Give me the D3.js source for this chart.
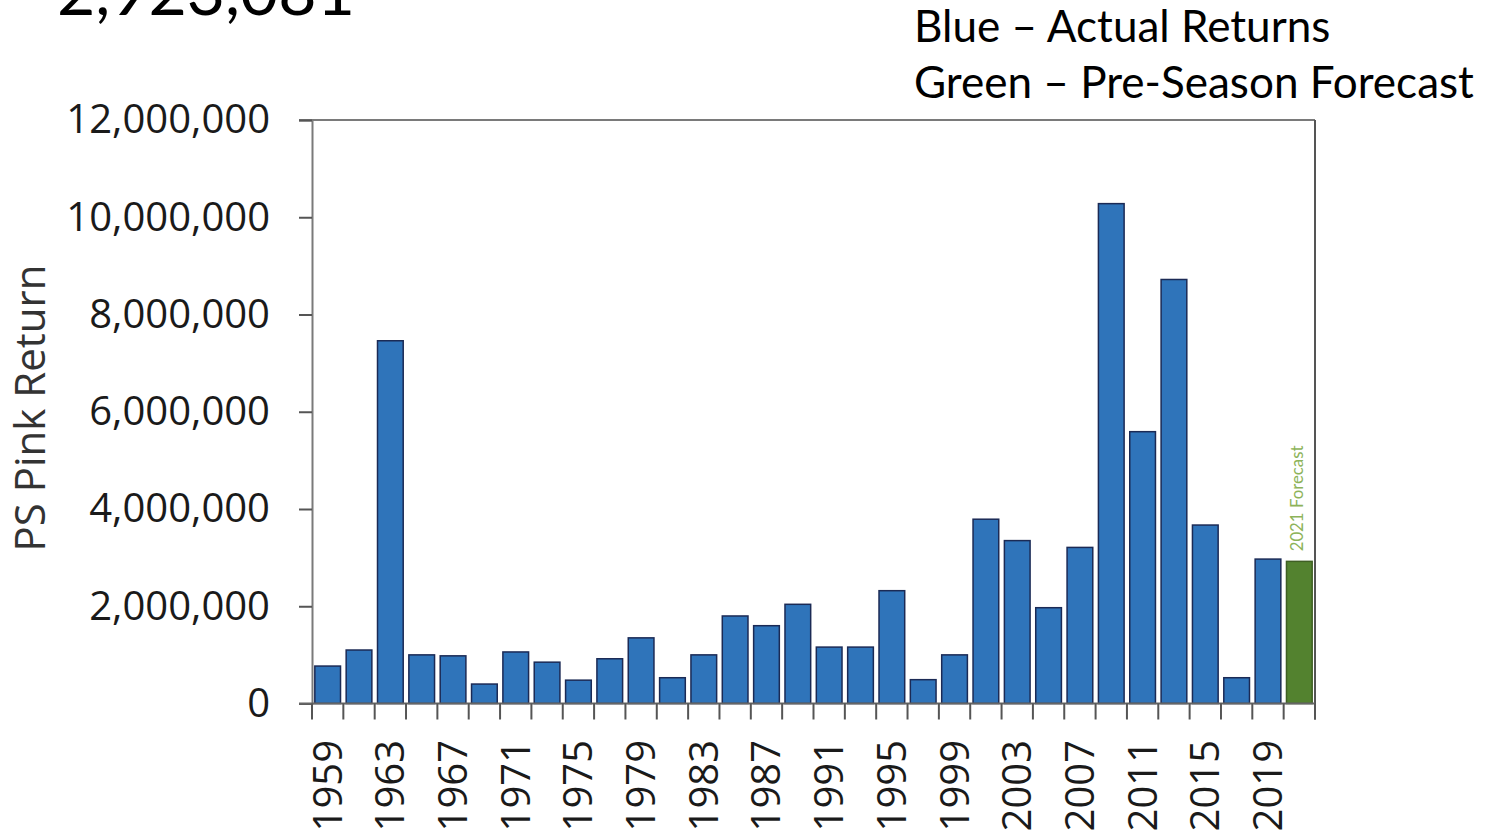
<!DOCTYPE html>
<html>
<head>
<meta charset="utf-8">
<script src="https://cdn.jsdelivr.net/npm/d3@7"></script>
<style>
  body { margin: 0; background: #fff; }
  svg { display: block; }
</style>
</head>
<body>
<svg id="chart" width="1488" height="838"></svg>
<script>
// odd years, actual returns (blue) and the 2021 pre-season forecast (green)
const years = [1959, 1961, 1963, 1965, 1967, 1969, 1971, 1973, 1975, 1977, 1979, 1981,
  1983, 1985, 1987, 1989, 1991, 1993, 1995, 1997, 1999, 2001, 2003, 2005, 2007, 2009,
  2011, 2013, 2015, 2017, 2019, 2021];
const actualReturns = [770000, 1100000, 7460000, 1000000, 980000, 400000, 1060000, 850000,
  480000, 920000, 1350000, 530000, 1000000, 1800000, 1600000, 2040000, 1160000, 1160000,
  2320000, 490000, 1000000, 3790000, 3350000, 1970000, 3210000, 10280000, 5590000,
  8720000, 3670000, 530000, 2970000];
const forecastYear = 2021;
const forecastValue = 2923081;
const labelYears = [1959, 1963, 1967, 1971, 1975, 1979, 1983, 1987, 1991, 1995, 1999,
  2003, 2007, 2011, 2015, 2019];
const yTicks = [0, 2000000, 4000000, 6000000, 8000000, 10000000, 12000000];

const bars = years.map((year, i) => ({
  year: year,
  value: year === forecastYear ? forecastValue : actualReturns[i],
  forecast: year === forecastYear
}));

const svg = d3.select('#chart');
const plotLeft = 312, plotRight = 1315, plotTop = 120, plotBottom = 703.5;

const x = d3.scaleBand().domain(years).range([plotLeft, plotRight]).paddingInner(0.18).paddingOuter(0.09);
const y = d3.scaleLinear().domain([0, 12000000]).range([plotBottom, plotTop]);

// scale a text's font size so it spans the wanted width
function fitWidth(sel, target) {
  const w = sel.node().getComputedTextLength();
  const fs = parseFloat(sel.attr('font-size'));
  sel.attr('font-size', fs * target / w);
}

// big number at top, cut off by the page edge
const title = svg.append('text')
  .attr('x', 57).attr('y', 15)
  .attr('font-family', 'Lato, sans-serif')
  .attr('font-size', 70)
  .attr('fill', '#000')
  .text(d3.format(',')(forecastValue));
fitWidth(title, 298);

const legendLines = ['Blue – Actual Returns', 'Green – Pre-Season Forecast'];
const legend = svg.append('g').selectAll('text')
  .data(legendLines)
  .join('text')
  .attr('x', 914)
  .attr('y', (d, i) => 42 + i * 56)
  .attr('font-family', 'Lato, sans-serif')
  .attr('font-size', 38)
  .attr('fill', '#000')
  .text(d => d);
const legendWide = legend.filter((d, i) => i === 1);
fitWidth(legendWide, 560);
legend.attr('font-size', legendWide.attr('font-size'));

// frame: top and right lines
svg.append('line')
  .attr('x1', plotLeft - 13).attr('x2', plotRight)
  .attr('y1', plotTop).attr('y2', plotTop)
  .attr('stroke', '#7a7a7a').attr('stroke-width', 2);
svg.append('line')
  .attr('x1', plotRight).attr('x2', plotRight)
  .attr('y1', plotTop).attr('y2', plotBottom + 16)
  .attr('stroke', '#555').attr('stroke-width', 2);

// bars
svg.append('g').selectAll('rect')
  .data(bars)
  .join('rect')
  .attr('x', d => x(d.year))
  .attr('y', d => y(d.value))
  .attr('width', x.bandwidth())
  .attr('height', d => y(0) - y(d.value))
  .attr('fill', d => d.forecast ? '#53822f' : '#2f74ba')
  .attr('stroke', d => d.forecast ? '#3f5f24' : '#1b2a55')
  .attr('stroke-width', 1.5);

// forecast note on the green bar
const fc = bars.find(d => d.forecast);
const note = svg.append('text')
  .attr('transform', `translate(${x(fc.year) + x.bandwidth() / 2 + 4},${y(fc.value) - 10}) rotate(-90)`)
  .attr('font-family', 'Lato, sans-serif')
  .attr('font-size', 13)
  .attr('fill', '#8db359')
  .text('2021 Forecast');
fitWidth(note, 106);

// y axis
const yAxis = svg.append('g')
  .attr('transform', `translate(${plotLeft},0)`)
  .call(d3.axisLeft(y).tickValues(yTicks).tickSize(13).tickPadding(29).tickFormat(d3.format(',')));
yAxis.select('.domain').attr('stroke', '#7a7a7a').attr('stroke-width', 2);
yAxis.selectAll('.tick line').attr('stroke', '#555').attr('stroke-width', 2);
yAxis.selectAll('.tick text')
  .attr('font-family', '"Open Sans", sans-serif')
  .attr('font-size', 40)
  .attr('fill', '#1a1a1a');

// x axis: baseline, ticks between bars, every other year labelled
const step = x.step();
const xg = svg.append('g');
xg.append('line')
  .attr('x1', plotLeft - 13).attr('x2', plotRight)
  .attr('y1', plotBottom).attr('y2', plotBottom)
  .attr('stroke', '#666').attr('stroke-width', 2);
xg.selectAll('line.tick')
  .data(years.concat([null]))
  .join('line')
  .attr('class', 'tick')
  .attr('x1', (d, i) => plotLeft + i * step)
  .attr('x2', (d, i) => plotLeft + i * step)
  .attr('y1', plotBottom).attr('y2', plotBottom + 16)
  .attr('stroke', '#555').attr('stroke-width', 2);
xg.selectAll('text')
  .data(labelYears)
  .join('text')
  .attr('transform', d => `translate(${x(d) + x.bandwidth() / 2},740) rotate(-90)`)
  .attr('dy', '0.35em')
  .attr('text-anchor', 'end')
  .attr('font-family', '"Open Sans", sans-serif')
  .attr('font-size', 40)
  .attr('fill', '#1a1a1a')
  .text(d => d);

// y axis title
const yTitle = svg.append('text')
  .attr('transform', 'translate(30,408) rotate(-90)')
  .attr('dy', '0.35em')
  .attr('text-anchor', 'middle')
  .attr('font-family', '"Open Sans", sans-serif')
  .attr('font-size', 38)
  .attr('fill', '#333')
  .text('PS Pink Return');
fitWidth(yTitle, 287);
</script>
</body>
</html>
